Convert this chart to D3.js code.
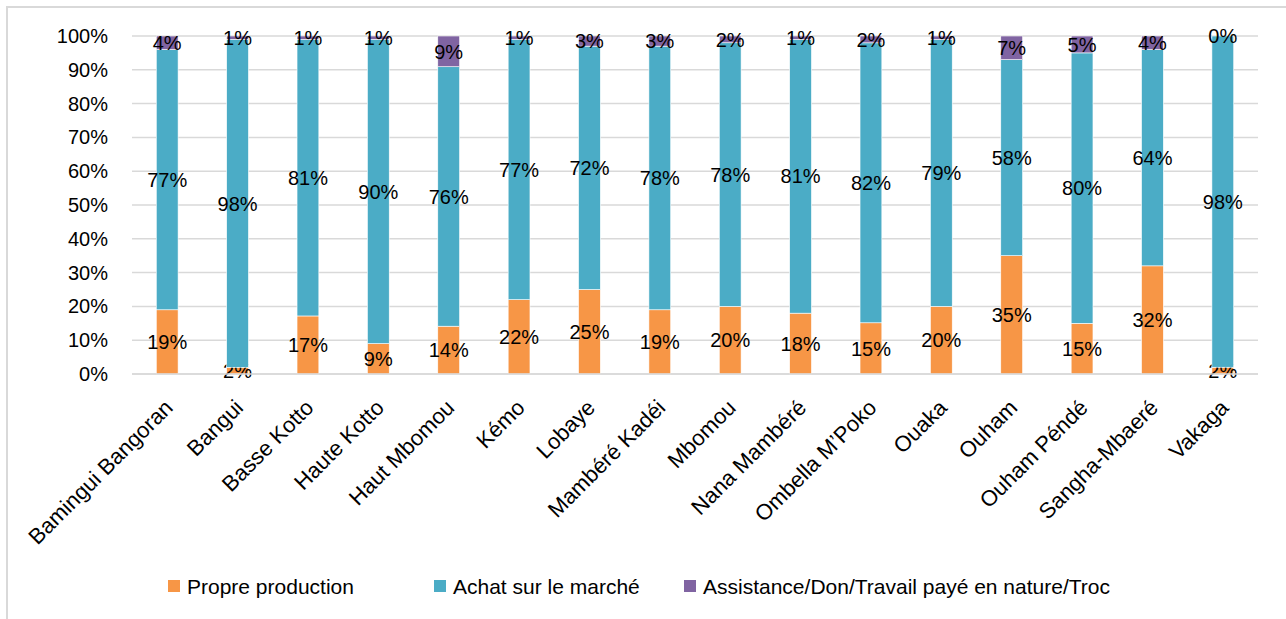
<!DOCTYPE html>
<html>
<head>
<meta charset="utf-8">
<script src="https://cdn.jsdelivr.net/npm/d3@7"></script>
<style>
  body { margin: 0; background: #fff; }
  text { font-family: "Liberation Sans", Arial, sans-serif; fill: #000; }
</style>
</head>
<body>
<svg></svg>
<script>
const width = 1286;
const height = 619;

// data
const regions = [
  "Bamingui Bangoran", "Bangui", "Basse Kotto", "Haute Kotto", "Haut Mbomou",
  "Kémo", "Lobaye", "Mambéré Kadéi", "Mbomou", "Nana Mambéré",
  "Ombella M’Poko", "Ouaka", "Ouham", "Ouham Péndé", "Sangha-Mbaeré", "Vakaga"
];
const propreProduction = [19, 2, 17, 9, 14, 22, 25, 19, 20, 18, 15, 20, 35, 15, 32, 2];
const achatMarche = [77, 98, 81, 90, 76, 77, 72, 78, 78, 81, 82, 79, 58, 80, 64, 98];
const assistance = [4, 1, 1, 1, 9, 1, 3, 3, 2, 1, 2, 1, 7, 5, 4, 0];
const seriesNames = ["Propre production", "Achat sur le marché", "Assistance/Don/Travail payé en nature/Troc"];
const seriesColors = ["#F79646", "#4BACC6", "#8064A2"];
const yTicks = [0, 0.1, 0.2, 0.3, 0.4, 0.5, 0.6, 0.7, 0.8, 0.9, 1];

const rows = regions.map((r, i) => ({
  region: r,
  s0: propreProduction[i],
  s1: achatMarche[i],
  s2: assistance[i]
}));
const keys = ["s0", "s1", "s2"];

const svg = d3.select("svg").attr("width", width).attr("height", height);

// outer frame
svg.append("rect")
  .attr("x", 7).attr("y", 7)
  .attr("width", width + 20).attr("height", height + 20)
  .attr("fill", "none").attr("stroke", "#D9D9D9").attr("stroke-width", 2);

const x = d3.scaleBand().domain(regions).range([132, 1258]).paddingInner(0.69).paddingOuter(0.345);
const y = d3.scaleLinear().domain([0, 1]).range([374, 36]);

//gridlines
svg.append("g")
  .selectAll("line")
  .data(yTicks)
  .enter()
  .append("line")
  .attr("x1", 132).attr("x2", 1258)
  .attr("y1", (d) => y(d)).attr("y2", (d) => y(d))
  .attr("stroke", "#D9D9D9").attr("stroke-width", 1.5);

// y axis labels
const yAxis = d3.axisLeft(y).tickValues(yTicks).tickFormat(d3.format(".0%")).tickSize(0).tickPadding(0);
const yg = svg.append("g").attr("transform", "translate(108,0)").call(yAxis);
yg.select(".domain").remove();
yg.selectAll("text").attr("font-size", 20).attr("font-family", null).attr("fill", "#000");

// stacked bars (100%)
const stacked = d3.stack().keys(keys).offset(d3.stackOffsetExpand)(rows);

const layers = svg.append("g")
  .selectAll("g")
  .data(stacked)
  .enter()
  .append("g")
  .attr("fill", (d, i) => seriesColors[i]);

layers.selectAll("rect")
  .data((d) => d)
  .enter()
  .append("rect")
  .attr("x", (d) => x(d.data.region))
  .attr("width", x.bandwidth())
  .attr("y", (d) => y(d[1]))
  .attr("height", (d) => y(d[0]) - y(d[1]))
  .attr("stroke", "#fff").attr("stroke-width", 0.6);

// data labels
layers.selectAll("text")
  .data((d) => d.map((p) => ({ p: p, key: d.key })))
  .enter()
  .append("text")
  .attr("x", (d) => x(d.p.data.region) + x.bandwidth() / 2)
  .attr("y", (d) => y((d.p[0] + d.p[1]) / 2))
  .attr("dy", "0.36em")
  .attr("text-anchor", "middle")
  .attr("font-size", 20)
  .text((d) => Math.round(d.p.data[d.key]) + "%");

// category labels
const xAxis = d3.axisBottom(x).tickSize(0).tickPadding(0);
const xg = svg.append("g").attr("transform", "translate(0,374)").call(xAxis);
xg.select(".domain").attr("stroke", "#D9D9D9").attr("stroke-width", 1.5).attr("d", "M132,0H1258");
xg.selectAll("text")
  .attr("font-size", 22).attr("font-family", null).attr("fill", "#000")
  .attr("text-anchor", "end")
  .attr("y", 0).attr("dy", 0)
  .attr("transform", "translate(7,35) rotate(-45)");

//legend
const legendX = [168, 434, 684];
const legend = svg.append("g").attr("transform", "translate(0,586)");
const items = legend.selectAll("g")
  .data(seriesNames)
  .enter()
  .append("g")
  .attr("transform", (d, i) => `translate(${legendX[i]},0)`);
items.append("rect")
  .attr("x", 0).attr("y", -6).attr("width", 12).attr("height", 12)
  .attr("fill", (d, i) => seriesColors[i]);
items.append("text")
  .attr("x", 19).attr("dy", "0.36em")
  .attr("font-size", 21)
  .text((d) => d);
</script>
</body>
</html>
